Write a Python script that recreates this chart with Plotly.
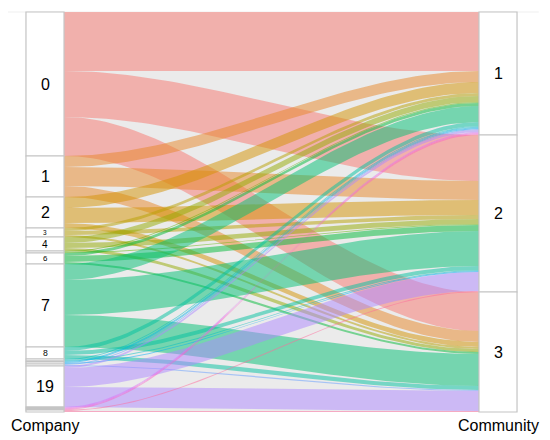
import numpy as np
import plotly.graph_objects as go

# company -> community membership counts
companies = ["0", "1", "2", "3", "4", "5", "6", "7", "8", "9", "10", "11", "12",
             "19", "20", "21", "22", "23"]
communities = ["1", "2", "3"]
to_comm1 = [59, 11, 11, 3, 6, 1, 3, 16, 4, 1, 1, 1, 1, 2, 1, 1, 1, 0]
to_comm2 = [46, 19, 15, 4, 5, 1, 6, 35, 4, 1, 0, 1, 0, 19, 0, 0, 0, 1]
to_comm3 = [39, 11, 5, 2, 3, 0, 2, 32, 4, 0, 0, 0, 1, 20, 0, 0, 0, 1]
axis_titles = ["Company", "Community"]


def hcl_hex(h, c=100, l=65):
    # polar LUV -> sRGB, same as R's hcl() used by the ggplot hue palette
    h = np.radians(h)
    u, v = c * np.cos(h), c * np.sin(h)
    xn, yn, zn = 95.047, 100.0, 108.883
    un = 4 * xn / (xn + 15 * yn + 3 * zn)
    vn = 9 * yn / (xn + 15 * yn + 3 * zn)
    Y = yn * ((l + 16) / 116) ** 3
    up = u / (13 * l) + un
    vp = v / (13 * l) + vn
    X = 9 * Y * up / (4 * vp)
    Z = -X / 3 - 5 * Y + 3 * Y / vp
    X, Y, Z = X / 100, Y / 100, Z / 100
    r = 3.2406 * X - 1.5372 * Y - 0.4986 * Z
    g = -0.9689 * X + 1.8758 * Y + 0.0415 * Z
    b = 0.0557 * X - 0.2040 * Y + 1.0570 * Z
    out = []
    for ch in (r, g, b):
        ch = min(max(ch, 0), 1)
        ch = 12.92 * ch if ch <= 0.0031308 else 1.055 * ch ** (1 / 2.4) - 0.055
        out.append(int(round(ch * 255)))
    return out


n = len(companies)
palette = [hcl_hex(15 + 360 * k / n) for k in range(n)]

counts = np.array([to_comm1, to_comm2, to_comm3]).T  # rows: company
total = counts.sum()
comp_size = counts.sum(axis=1) / total
comm_size = counts.sum(axis=0) / total
comp_top = np.concatenate([[0], np.cumsum(comp_size)[:-1]])
comm_top = np.concatenate([[0], np.cumsum(comm_size)[:-1]])

w = 0.042          # half width of the strata boxes
x0, x1 = 1 + w, 2 - w

fig = go.Figure()

# flows
left_off = np.zeros(n)
right_off = np.zeros(3)
t = np.linspace(0, 1, 60)
s = t * t * (3 - 2 * t)
xs = x0 + (x1 - x0) * t
for i in range(n):
    for j in range(3):
        f = counts[i, j] / total
        if f <= 0:
            continue
        yl = comp_top[i] + left_off[i]
        yr = comm_top[j] + right_off[j]
        left_off[i] += f
        right_off[j] += f
        top = yl + (yr - yl) * s
        bot = top + f
        r, g, b = palette[i]
        fig.add_trace(go.Scatter(
            x=np.concatenate([xs, xs[::-1]]),
            y=np.concatenate([top, bot[::-1]]),
            fill="toself", mode="lines", line=dict(width=0),
            fillcolor=f"rgba({r},{g},{b},0.5)",
            hoverinfo="skip", showlegend=False))

shapes = [dict(type="rect", xref="x", yref="y", x0=x0, x1=x1, y0=0, y1=1,
               fillcolor="#EBEBEB", line=dict(width=0), layer="below"),
          dict(type="line", xref="x", yref="y", x0=0.915, x1=2.09, y0=0, y1=0,
               line=dict(color="#EFEFEF", width=1), layer="below")]
annotations = []


def add_axis(xc, tops, sizes, labels):
    for top, size, lab in zip(tops, sizes, labels):
        shapes.append(dict(type="rect", xref="x", yref="y",
                           x0=xc - w, x1=xc + w, y0=top, y1=top + size,
                           fillcolor="white", line=dict(color="#C4C4C4", width=1.2)))
        px = size * 400
        if px >= 7:
            annotations.append(dict(x=xc, y=top + size / 2, text=lab, showarrow=False,
                                    xref="x", yref="y",
                                    font=dict(size=min(16, 0.72 * px), color="black")))


add_axis(1, comp_top, comp_size, companies)
add_axis(2, comm_top, comm_size, communities)

for xc, title in zip([1, 2], axis_titles):
    annotations.append(dict(x=xc, y=1.034, text=title, showarrow=False,
                            xref="x", yref="y", font=dict(size=16, color="black")))

# the page body adds an 8px offset, so the figure is 8px smaller than the window
fig.update_layout(
    width=542, height=432,
    margin=dict(l=0, r=0, t=0, b=0),
    paper_bgcolor="white", plot_bgcolor="white",
    font=dict(family="Liberation Sans, Arial, sans-serif"),
    xaxis=dict(range=[1 - 37 / 453, 1 + 505 / 453], visible=False, fixedrange=True),
    yaxis=dict(range=[1 + 28 / 400, -4 / 400], visible=False, fixedrange=True),
    shapes=shapes, annotations=annotations,
)

fig.write_html("out.html")
